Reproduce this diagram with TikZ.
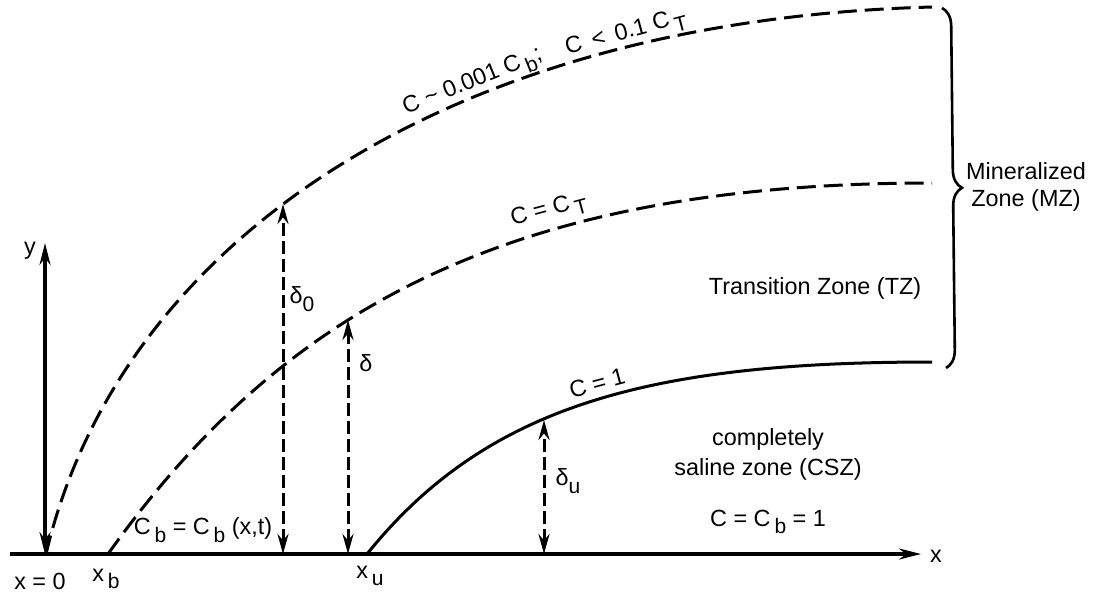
\documentclass[tikz,border=0pt]{standalone}
\usepackage{fontspec}
\setmainfont{Liberation Sans}
\usetikzlibrary{arrows.meta,decorations.pathreplacing}
\newcommand\lowsub[1]{\,\raisebox{-0.6ex}{\fontsize{10.5}{12}\selectfont #1}}
\newcommand\tightsub[1]{\raisebox{-0.6ex}{\fontsize{10.5}{12}\selectfont #1}}
\begin{document}
\begin{tikzpicture}[x=0.5pt,y=-0.5pt,
  every node/.style={font=\fontsize{11.7}{14}\selectfont, inner sep=0pt},
  curvedash/.style={line width=1.5pt, dash pattern=on 9.5pt off 4pt},
  curvesolid/.style={line width=1.5pt},
  axisline/.style={line width=1.6pt},
  deltaarrow/.style={line width=1.5pt, dash pattern=on 6.5pt off 2.5pt,
     {Stealth[length=10pt,width=5.5pt]}-{Stealth[length=10pt,width=5.5pt]}},
  bracestyle/.style={line width=1.3pt, decorate, decoration={brace, amplitude=9pt}}
]
\useasboundingbox (0,0) rectangle (1096,596);

% coordinates
\coordinate (xl) at (10,554);
\coordinate (xr) at (921,554);
\coordinate (yb) at (45,554);
\coordinate (yt) at (45,243);
\coordinate (d0t) at (283,204);
\coordinate (d0b) at (283,554);
\coordinate (dt) at (348,320);
\coordinate (db) at (348,554);
\coordinate (dut) at (544,420);
\coordinate (dub) at (544,554);
\coordinate (bt) at (942,8);
\coordinate (bb) at (946,368);
\coordinate (c1s) at (46,554);
\coordinate (c1e) at (932,7);
\coordinate (c2s) at (108,554);
\coordinate (c2e) at (932,183);
\coordinate (c3s) at (367,554);
\coordinate (c3e) at (932,362);

% axes
\draw[axisline, -{Stealth[length=11pt,width=5.5pt]}] (xl) -- (xr);
\draw[axisline, {Stealth[length=11pt,width=5.5pt]}-{Stealth[length=11pt,width=5.5pt]}] (yb) -- (yt);

% curves
\draw[curvedash] (c1s) .. controls (120,240) and (450,20) .. (c1e);
\draw[curvedash] (c2s) .. controls (278,316) and (500,183) .. (c2e);
\draw[curvesolid] (c3s) .. controls (487,405) and (650,362) .. (c3e);

% delta arrows
\draw[deltaarrow] (d0b) -- (d0t);
\draw[deltaarrow] (db) -- (dt);
\draw[deltaarrow] (dub) -- (dut);

% brace
\draw[bracestyle] (bt) -- (bb);

% labels
\node (ylab) at (30,251) {y};
\node (xlab) at (936,556) {x};
\node (x0) at (40,581) {x = 0};
\node (xb) at (106,579) {x\lowsub{b}};
\node (xu) at (370,576) {x\lowsub{u}};
\node (cb) at (203,530) {C\lowsub{b} = C\lowsub{b} (x,t)};
\node (d0lab) at (302,299) {δ\tightsub{0}};
\node (dlab) at (366,363) {δ};
\node (dulab) at (568,481) {δ\tightsub{u}};
\node[rotate=15] (c1) at (597,383) {C = 1};
\node[rotate=15] (cct) at (549,211) {C = C\lowsub{T}};
\node[rotate=22] (top1) at (473,83) {C \textasciitilde{} 0.001 C\lowsub{b};};
\node[rotate=15] (top2) at (626,34) {C \,<\, 0.1 C\lowsub{T}};
\node (tz) at (815,288) {Transition Zone (TZ)};
\node[align=center, font=\fontsize{11.7}{15}\selectfont] (csz) at (768,454) {completely\\saline zone (CSZ)};
\node (ccb) at (768,522) {C = C\lowsub{b} = 1};
\node[align=center, font=\fontsize{11.7}{13.5}\selectfont] (mz) at (1026,187) {Mineralized\\Zone (MZ)};
\end{tikzpicture}
\end{document}
